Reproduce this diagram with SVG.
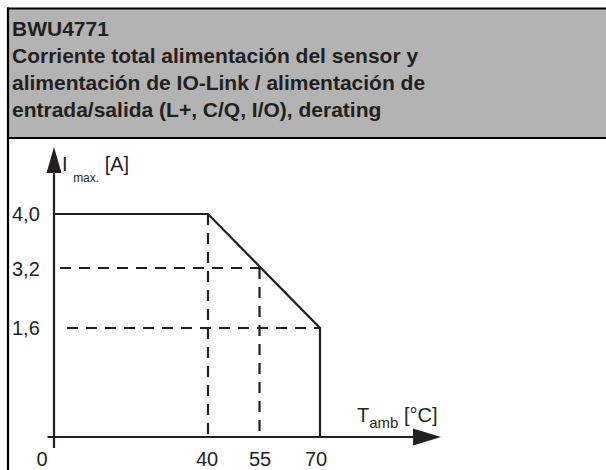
<svg xmlns="http://www.w3.org/2000/svg" width="606" height="470" viewBox="0 0 606 470">
<style>
.title{font-family:"Liberation Sans",Arial,sans-serif;font-weight:bold;font-size:21px;fill:#231f20}
.lbl{font-family:"Liberation Sans",Arial,sans-serif;font-size:20px;fill:#231f20}
.sub{font-family:"Liberation Sans",Arial,sans-serif;font-size:12px;fill:#231f20}
.sub2{font-family:"Liberation Sans",Arial,sans-serif;font-size:15px;fill:#231f20}
.solid{fill:none;stroke:#231f20;stroke-width:2.2}
.dash{fill:none;stroke:#231f20;stroke-width:2.2;stroke-dasharray:11 8}
</style>
<rect x="0" y="0" width="606" height="470" fill="#ffffff"/>
<g id="header">
<rect x="8" y="8.5" width="610" height="129" fill="#b3b3b3"/>
<line x1="7" y1="8.5" x2="606" y2="8.5" stroke="#000" stroke-width="2.2"/>
<line x1="7" y1="138" x2="606" y2="138" stroke="#000" stroke-width="2.2"/>
<line x1="8" y1="7.5" x2="8" y2="470" stroke="#000" stroke-width="2.2"/>
<text class="title" x="12" y="36">BWU4771</text>
<text class="title" x="12" y="63">Corriente total alimentación del sensor y</text>
<text class="title" x="12" y="90">alimentación de IO-Link / alimentación de</text>
<text class="title" x="12" y="117">entrada/salida (L+, C/Q, I/O), derating</text>
</g>
<g id="axes">
<line class="solid" x1="54" y1="168" x2="54" y2="448"/>
<polygon points="54,147 46.5,173 61.5,173" fill="#231f20"/>
<line class="solid" x1="47.5" y1="437" x2="415" y2="437"/>
<polygon points="441,437 413,428.5 413,445.5" fill="#231f20"/>
</g>
<g id="connectors">
<polyline class="solid" points="54,214 208,214 320,328 320,437"/>
<line class="dash" x1="60" y1="268" x2="259" y2="268"/>
<line class="dash" x1="67" y1="328" x2="320" y2="328"/>
<line class="dash" x1="208" y1="214" x2="208" y2="437"/>
<line class="dash" x1="259.5" y1="268" x2="259.5" y2="437"/>
</g>
<g id="labels">
<text class="lbl" x="12" y="221">4,0</text>
<text class="lbl" x="12" y="276">3,2</text>
<text class="lbl" x="12" y="335">1,6</text>
<text class="lbl" x="42" y="466" text-anchor="middle">0</text>
<text class="lbl" x="207" y="466" text-anchor="middle">40</text>
<text class="lbl" x="260" y="466" text-anchor="middle">55</text>
<text class="lbl" x="316" y="466" text-anchor="middle">70</text>
<text class="lbl" x="62" y="171">I <tspan class="sub" dy="11">max.</tspan><tspan dy="-11"> [A]</tspan></text>
<text class="lbl" x="357" y="422">T<tspan class="sub2" dy="6">amb</tspan><tspan dy="-6"> [°C]</tspan></text>
</g>
</svg>
